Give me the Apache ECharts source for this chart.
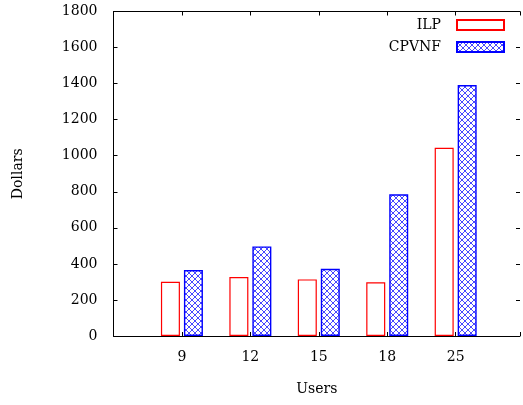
<!DOCTYPE html>
<html>
<head>
<meta charset="utf-8">
<script src="https://cdn.jsdelivr.net/npm/echarts@6/dist/echarts.min.js"></script>
<style>
html,body{margin:0;padding:0;background:#fff;}
#chart{width:523px;height:405px;}
</style>
</head>
<body>
<div id="chart"></div>
<script>
var categories = ['9', '12', '15', '18', '25'];
var ilp = [301, 327, 314, 298, 1044];
var cpvnf = [366, 497, 373, 786, 1392];
var yTicks = { min: 0, max: 1800, interval: 200 };

var FONT = 'DejaVu Serif';

function makeHatch() {
  var c = document.createElement('canvas');
  c.width = 6; c.height = 6;
  var g = c.getContext('2d');
  g.fillStyle = '#ffffff';
  g.fillRect(0, 0, 6, 6);
  g.strokeStyle = '#3333ff';
  g.lineWidth = 0.9;
  g.beginPath();
  g.moveTo(0, 0); g.lineTo(6, 6);
  g.moveTo(6, 0); g.lineTo(0, 6);
  g.stroke();
  return c;
}
var hatch = { image: makeHatch(), repeat: 'repeat' };

var chart = echarts.init(document.getElementById('chart'), null, { renderer: 'canvas' });

var axisLine = { show: true, onZero: false, lineStyle: { color: '#000', width: 1 } };
var xMin = -1, xMax = 4.94;

chart.setOption({
  animation: false,
  backgroundColor: '#fff',
  grid: { left: 113.5, top: 11.5, width: 408.5, height: 324.5, containLabel: false },
  legend: [
    {
      data: ['ILP'], right: 18, top: 18, orient: 'vertical', align: 'right', padding: 0,
      itemWidth: 47, itemHeight: 10, icon: 'rect',
      textStyle: { fontFamily: FONT, fontSize: 14, color: '#000', padding: [0, 11, 0, 0] }
    },
    {
      data: ['CPVNF'], right: 18, top: 40, orient: 'vertical', align: 'right', padding: 0,
      itemWidth: 47, itemHeight: 10, icon: 'rect',
      textStyle: { fontFamily: FONT, fontSize: 14, color: '#000', padding: [0, 11, 0, 0] }
    }
  ],
  xAxis: [
    {
      type: 'value', min: xMin, max: xMax, interval: 1, position: 'bottom',
      name: 'Users', nameLocation: 'middle', nameGap: 46,
      nameTextStyle: { fontFamily: FONT, fontSize: 14, color: '#000' },
      axisLine: axisLine,
      axisTick: { show: true, inside: true, length: 4, lineStyle: { color: '#000' } },
      axisLabel: {
        fontFamily: FONT, fontSize: 14, color: '#000', margin: 14,
        formatter: function (v) { return categories[Math.round(v)] || ''; }
      },
      splitLine: { show: false }
    },
    {
      type: 'value', min: xMin, max: xMax, interval: 1, position: 'top',
      axisLine: axisLine,
      axisTick: { show: true, inside: true, length: 4, lineStyle: { color: '#000' } },
      axisLabel: { show: false },
      splitLine: { show: false }
    }
  ],
  yAxis: [
    {
      type: 'value', min: yTicks.min, max: yTicks.max, interval: yTicks.interval, position: 'left',
      name: 'Dollars', nameLocation: 'middle', nameGap: 88,
      nameTextStyle: { fontFamily: FONT, fontSize: 14, color: '#000' },
      axisLine: axisLine,
      axisTick: { show: true, inside: true, length: 4, lineStyle: { color: '#000' } },
      axisLabel: { fontFamily: FONT, fontSize: 14, color: '#000', margin: 16,
        formatter: function (v) { return String(v); } },
      splitLine: { show: false }
    },
    {
      type: 'value', min: yTicks.min, max: yTicks.max, interval: yTicks.interval, position: 'right',
      axisLine: { show: false, onZero: false },
      axisTick: { show: true, inside: true, length: 4, lineStyle: { color: '#000' } },
      axisLabel: { show: false },
      splitLine: { show: false }
    }
  ],
  series: [
    {
      name: 'ILP', type: 'bar', xAxisIndex: 0, yAxisIndex: 0,
      barWidth: 19, barGap: '21%',
      data: ilp.map(function (v, i) { return [i, v]; }),
      itemStyle: { color: '#ffffff', borderColor: '#ff0000', borderWidth: 1.2 }
    },
    {
      name: 'CPVNF', type: 'bar', xAxisIndex: 0, yAxisIndex: 0,
      barWidth: 19, barGap: '21%',
      data: cpvnf.map(function (v, i) { return [i, v]; }),
      itemStyle: { color: hatch, borderColor: '#0000ff', borderWidth: 1.4 }
    }
  ]
});
</script>
</body>
</html>
